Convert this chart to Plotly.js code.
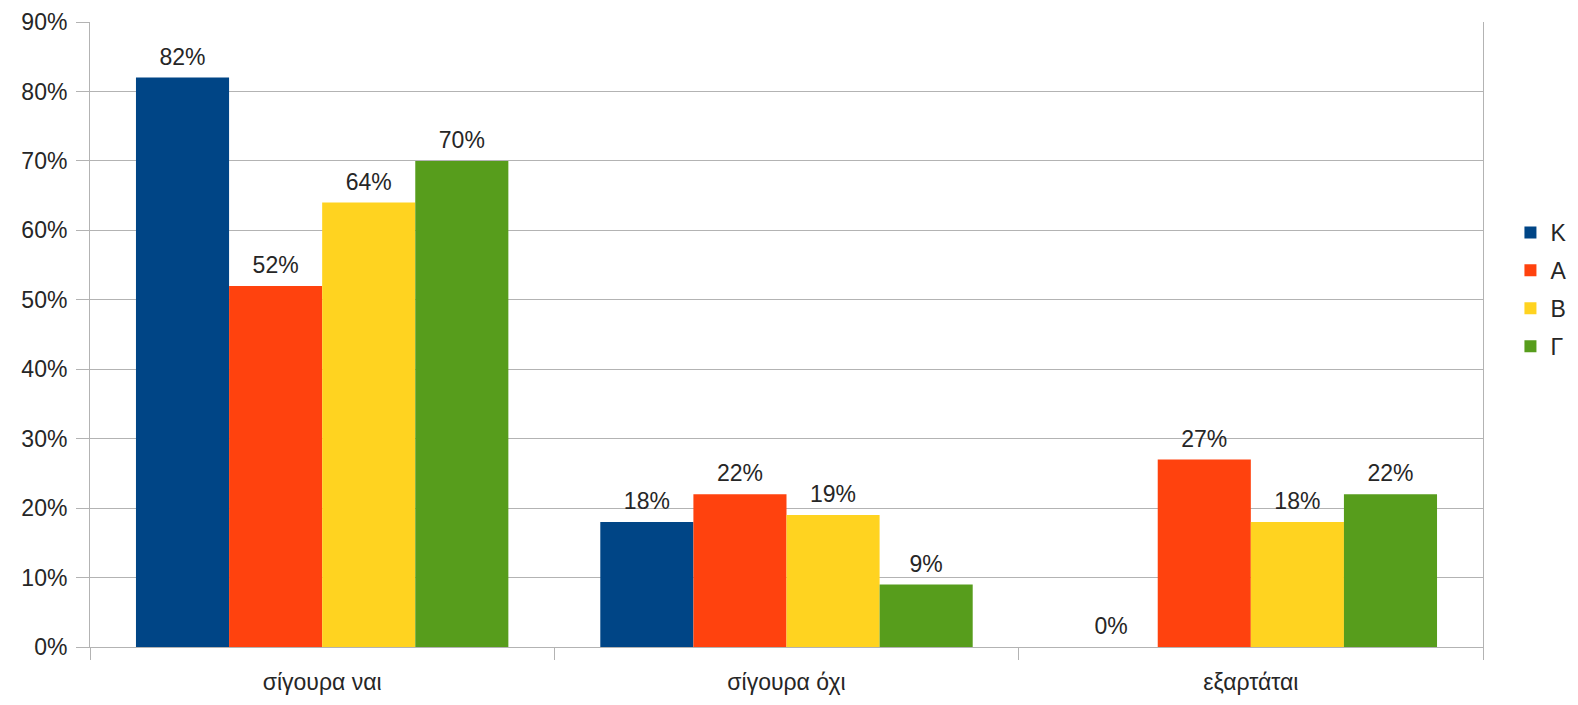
<!DOCTYPE html>
<html>
<head>
<meta charset="utf-8">
<script src="https://cdn.plot.ly/plotly-3.0.1.min.js"></script>
<style>html,body{margin:0;padding:0;background:#fff;}#chart{width:1578px;height:705px;}</style>
</head>
<body>
<div id="chart"></div>
<script>
const categories = ["σίγουρα ναι", "σίγουρα όχι", "εξαρτάται"];
const seriesNames = ["Κ", "Α", "Β", "Γ"];
const valuesK = [82, 18, 0];
const valuesA = [52, 22, 27];
const valuesB = [64, 19, 18];
const valuesG = [70, 9, 22];
const colors = ["#004586", "#ff420e", "#ffd320", "#579d1c"];
const yTickVals = [0, 10, 20, 30, 40, 50, 60, 70, 80, 90];

const allValues = [valuesK, valuesA, valuesB, valuesG];
const FONT = "Liberation Sans, Arial, sans-serif";
const FS = 23;
const TXT = "#262626";
const LABEL_GAP = 0.7; // visual gap (in axis units) between bar top and its label

const traces = [];
allValues.forEach((vals, i) => {
  traces.push({
    type: "bar",
    name: seriesNames[i],
    x: categories,
    y: vals,
    offsetgroup: "g" + i,
    legendgroup: "g" + i,
    marker: { color: colors[i], line: { width: 0 } },
    hoverinfo: "skip"
  });
});
// label carriers: transparent bars sitting on top of each bar, carrying the value text
allValues.forEach((vals, i) => {
  traces.push({
    type: "bar",
    x: categories,
    y: vals.map(() => LABEL_GAP),
    base: vals,
    offsetgroup: "g" + i,
    showlegend: false,
    marker: { color: "rgba(0,0,0,0)", line: { width: 0 } },
    text: vals.map(v => v + "%"),
    textposition: "outside",
    textfont: { family: FONT, size: FS, color: TXT },
    cliponaxis: false,
    hoverinfo: "skip"
  });
});

const layout = {
  width: 1578,
  height: 705,
  margin: { l: 90, r: 95, t: 22, b: 58, autoexpand: false },
  paper_bgcolor: "#ffffff",
  plot_bgcolor: "#ffffff",
  barmode: "group",
  bargap: 0.198,
  bargroupgap: 0,
  font: { family: FONT, size: FS, color: TXT },
  showlegend: true,
  legend: {
    x: 1.0197, xanchor: "left",
    y: 0.572, yanchor: "middle",
    traceorder: "grouped",
    tracegroupgap: 5,
    font: { family: FONT, size: FS, color: TXT },
    bgcolor: "rgba(0,0,0,0)"
  },
  xaxis: {
    type: "category",
    showline: true, linecolor: "#b3b3b3", linewidth: 1,
    mirror: false,
    ticks: "outside", tickson: "boundaries", ticklen: 12, tickcolor: "#b3b3b3", tickwidth: 1,
    ticklabelstandoff: 14,
    showgrid: false,
    tickfont: { family: FONT, size: FS, color: TXT },
    fixedrange: true
  },
  yaxis: {
    range: [0, 90],
    tickvals: yTickVals,
    ticktext: yTickVals.map(v => v + "%"),
    showline: true, linecolor: "#b3b3b3", linewidth: 1, mirror: true,
    ticks: "outside", ticklen: 13, tickcolor: "#b3b3b3", tickwidth: 1,
    ticklabelstandoff: 4,
    showgrid: true, gridcolor: "#b3b3b3", gridwidth: 1,
    zeroline: false,
    tickfont: { family: FONT, size: FS, color: TXT },
    fixedrange: true
  }
};

Plotly.newPlot("chart", traces, layout, { displayModeBar: false, staticPlot: true });
</script>
</body>
</html>
